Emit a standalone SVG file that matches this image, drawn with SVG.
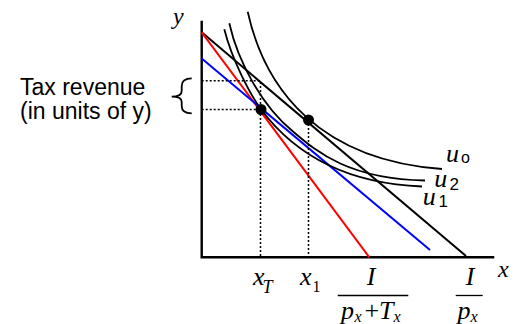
<svg xmlns="http://www.w3.org/2000/svg" width="523" height="324" viewBox="0 0 523 324">
<style>
.ax{stroke:#000;stroke-width:2.4;fill:none}
.cv{stroke:#000;stroke-width:1.8;fill:none}
.bl{stroke-width:2;fill:none}
.dot{stroke:#000;stroke-width:1.5;stroke-dasharray:2,2;fill:none}
.it{font-family:"Liberation Serif",serif;font-style:italic;fill:#000}
.rm{font-family:"Liberation Serif",serif;fill:#000}
.sa{font-family:"Liberation Sans",Arial,sans-serif;fill:#000}
</style>
<rect width="523" height="324" fill="#fff"/>
<g id="axes">
<path class="ax" d="M201.7,20.7 V257.3 H494.3"/>
<text class="it" x="173" y="23.5" font-size="24">y</text>
<text class="it" x="498" y="276.5" font-size="24">x</text>
</g>
<g id="connectors">
<path class="bl" stroke="#000" d="M201.7,32.3 L466,256"/>
<path class="bl" stroke="#ff0000" d="M201.7,32.3 L369.3,257.3"/>
<path class="bl" stroke="#0000ff" d="M201.7,58.5 L430,250"/>
<path class="dot" d="M201.7,80.7 H260.5 V257 M201.7,109.5 H260.5 M308.5,120 V257"/>
</g>
<g id="u0">
<path class="cv" d="M247.7,11.7 C265,90 320,160 442,169"/>
<text class="it" x="446" y="162.3" font-size="26">u</text>
<text class="sa" x="461" y="163.3" font-size="16">o</text>
</g>
<g id="u2">
<path class="cv" d="M229.3,23.3 C238,62 262,106 293,131.5 C318,153 350,179 425,180.5"/>
<text class="it" x="434.3" y="187.3" font-size="26">u</text>
<text class="sa" x="449.5" y="190" font-size="17">2</text>
</g>
<g id="u1">
<path class="cv" d="M224.3,29.3 C232,60 250,94 261,109.3 C285,141.5 330,183 422,186.5"/>
<text class="it" x="422.7" y="205" font-size="26">u</text>
<text class="sa" x="438.5" y="207.3" font-size="17">1</text>
</g>
<g id="pointT">
<circle cx="261" cy="109.5" r="5.5" fill="#000"/>
</g>
<g id="point1">
<circle cx="308.5" cy="120" r="5.5" fill="#000"/>
</g>
<g id="tax">
<text class="sa" x="20" y="95" font-size="23">Tax revenue</text>
<text class="sa" x="20" y="118.5" font-size="23">(in units of y)</text>
<path fill="none" stroke="#000" stroke-width="1.8" d="M191.7,78.3 Q181.7,78.3 181.7,86 L181.7,91 Q181.7,96.7 171.7,96.7 Q181.7,96.7 181.7,102 L181.7,106 Q181.7,113.3 191.7,113.3"/>
</g>
<g id="xlabels">
<text class="it" x="253" y="285" font-size="26">x</text>
<text class="it" x="262.5" y="292.5" font-size="18">T</text>
<text class="it" x="300" y="285" font-size="26">x</text>
<text class="rm" x="312.5" y="291.5" font-size="16">1</text>
</g>
<g id="frac1">
<text class="it" x="371" y="285" font-size="26" text-anchor="middle">I</text>
<path stroke="#000" stroke-width="1.3" d="M337.7,295.5 H408.3"/>
<text class="it" x="341" y="319" font-size="26">p</text>
<text class="it" x="354.5" y="321.5" font-size="16">x</text>
<text class="rm" x="364.5" y="319" font-size="26">+</text>
<text class="it" x="379" y="319" font-size="26">T</text>
<text class="it" x="393.5" y="321.5" font-size="16">x</text>
</g>
<g id="frac2">
<text class="it" x="470" y="285" font-size="26" text-anchor="middle">I</text>
<path stroke="#000" stroke-width="1.3" d="M455.7,295.5 H482.7"/>
<text class="it" x="457.5" y="319" font-size="26">p</text>
<text class="it" x="470.5" y="321.5" font-size="16">x</text>
</g>
</svg>
